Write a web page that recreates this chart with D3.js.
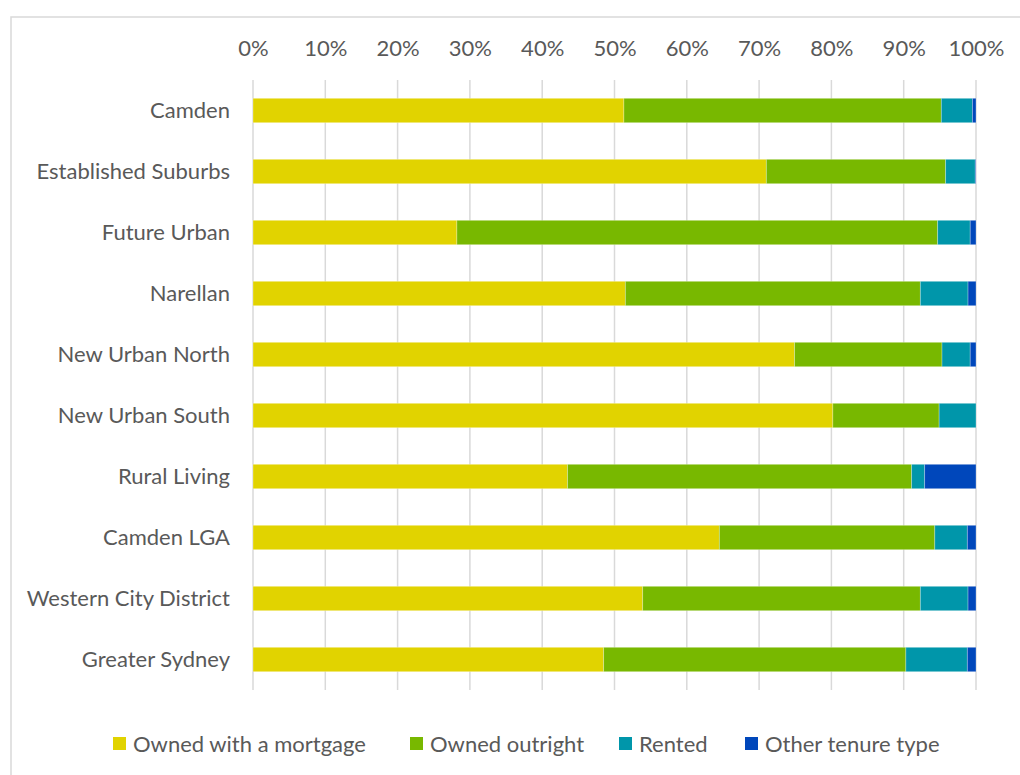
<!DOCTYPE html>
<html>
<head>
<meta charset="utf-8">
<script src="https://cdn.jsdelivr.net/npm/d3@7"></script>
<style>
  html, body { margin: 0; padding: 0; background: #fff; }
  svg text { font-family: Lato, "Open Sans", sans-serif; fill: #595959; }
</style>
</head>
<body>
<svg id="chart" width="1020" height="775"></svg>
<script>
const categories = ["Camden", "Established Suburbs", "Future Urban", "Narellan", "New Urban North",
  "New Urban South", "Rural Living", "Camden LGA", "Western City District", "Greater Sydney"];
const seriesNames = ["Owned with a mortgage", "Owned outright", "Rented", "Other tenure type"];
const seriesColors = ["#e1d300", "#78b800", "#0096aa", "#0047bb"];
const mortgage = [51.3, 71.0, 28.2, 51.5, 74.9, 80.2, 43.5, 64.5, 53.9, 48.5];
const outright = [43.9, 24.8, 66.5, 40.8, 20.4, 14.7, 47.6, 29.8, 38.4, 41.8];
const rented   = [4.3, 4.1, 4.5, 6.6, 3.9, 5.1, 1.8, 4.5, 6.6, 8.5];
const other    = [0.5, 0.1, 0.8, 1.1, 0.8, 0.0, 7.1, 1.2, 1.1, 1.2];
const tickValues = [0, 10, 20, 30, 40, 50, 60, 70, 80, 90, 100];
const tickLabels = ["0%", "10%", "20%", "30%", "40%", "50%", "60%", "70%", "80%", "90%", "100%"];

const FS = 22;
const svg = d3.select("#chart");

// frame
svg.append("rect").attr("x", 11).attr("y", 17).attr("width", 1030).attr("height", 790)
  .attr("fill", "none").attr("stroke", "#d9d9d9").attr("stroke-width", 1.5);

const x = d3.scaleLinear().domain([0, 100]).range([253, 976]);
const y = d3.scaleBand().domain(categories).range([80, 690]).paddingInner(0.6).paddingOuter(0.3);

// gridlines
svg.append("g").selectAll("line").data(tickValues).join("line")
  .attr("x1", d => x(d)).attr("x2", d => x(d))
  .attr("y1", 80).attr("y2", 690)
  .attr("stroke", "#d9d9d9").attr("stroke-width", 1.5);

// top axis labels
const xAxis = d3.axisTop(x).tickValues(tickValues).tickFormat((d, i) => tickLabels[i]).tickSize(0).tickPadding(0);
const gx = svg.append("g").attr("transform", "translate(0,56)").call(xAxis);
gx.select(".domain").remove();
gx.selectAll("text").attr("font-size", FS).attr("fill", "#595959")
  .style("font-family", "Lato, sans-serif").attr("dy", 0);

// category axis
const yAxis = d3.axisLeft(y).tickSize(0).tickPadding(23);
const gy = svg.append("g").attr("transform", "translate(253,0)").call(yAxis);
gy.select(".domain").remove();
gy.selectAll("text").attr("font-size", FS).attr("fill", "#595959")
  .style("font-family", "Lato, sans-serif");

// stacked data
const rows = categories.map((c, i) => ({
  cat: c, "Owned with a mortgage": mortgage[i], "Owned outright": outright[i],
  "Rented": rented[i], "Other tenure type": other[i]
}));
const stack = d3.stack().keys(seriesNames);
const stacked = stack(rows);

svg.append("g").selectAll("g").data(stacked).join("g")
  .attr("fill", (d, i) => seriesColors[i])
  .selectAll("rect").data(d => d).join("rect")
  .attr("x", d => x(d[0]))
  .attr("width", d => Math.max(0, x(d[1]) - x(d[0])))
  .attr("y", d => y(d.data.cat))
  .attr("height", y.bandwidth())
  .attr("stroke", "rgba(255,255,255,0.35)").attr("stroke-width", 0.8);

// legend
const legendX = [113, 410, 619, 745];
const lg = svg.append("g");
seriesNames.forEach((name, i) => {
  lg.append("rect").attr("x", legendX[i]).attr("y", 737).attr("width", 13).attr("height", 13)
    .attr("fill", seriesColors[i]);
  lg.append("text").attr("x", legendX[i] + 20).attr("y", 744).attr("dy", "0.35em")
    .attr("font-size", FS).text(name);
});
</script>
</body>
</html>
